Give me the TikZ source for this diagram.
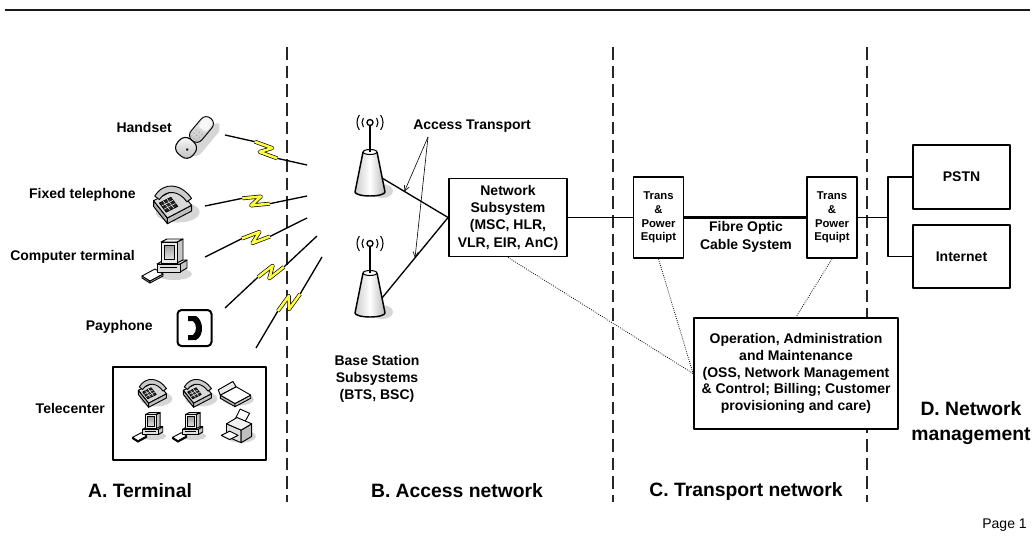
\documentclass[tikz,border=0pt]{standalone}
\usepackage{fontspec}
\setmainfont{Liberation Sans}
\usetikzlibrary{calc,arrows.meta}

\definecolor{zapyellow}{rgb}{1,1,0.25}
\definecolor{shadowgray}{gray}{0.84}

\newcommand\lblfont{\fontsize{10.5}{13}\selectfont\bfseries}
\newcommand\smallbold{\fontsize{8.5}{10.2}\selectfont\bfseries}
\newcommand\bigbold{\fontsize{14.5}{19}\selectfont\bfseries}

% radio link: straight wire with a lightning zig-zag in its middle
\newcommand\zapline[2]{%
  \path let \p1=($(#2)-(#1)$), \n1={veclen(\x1,\y1)/2}, \n2={atan2(\y1,\x1)} in
    ($(#1)+(\n2:{\n1-10pt})+({\n2+90}:3pt)$) coordinate (z1)
    ($(#1)+(\n2:{\n1+4pt})+({\n2+90}:3pt)$) coordinate (z2)
    ($(#1)+(\n2:{\n1-4pt})+({\n2-90}:3pt)$) coordinate (z3)
    ($(#1)+(\n2:{\n1+10pt})+({\n2-90}:3pt)$) coordinate (z4);
  \draw[wire] (#1) -- (z1) (z4) -- (#2);
  \draw[zap] (z1) -- (z2) -- (z3) -- (z4);
}

\tikzset{
  outline/.style={draw=black, line width=0.7pt},
  % mobile handset
  handset/.pic={
    \begin{scope}[rotate=50]
      \fill[shadowgray, rounded corners=6pt] (-18,4) rectangle (24,15);
      \shade[top color=gray!10, bottom color=gray!50, draw=black, line width=0.7pt, rounded corners=5pt] (-6,-7) rectangle (23,7);
      \fill[gray!6, rounded corners=2pt] (9,-5) rectangle (21,5);
      \foreach \u in {-3,1,5} \foreach \v in {-3.5,0,3.5} \fill[gray!60] (\u,\v) circle[radius=0.9];
      \shade[top color=white, bottom color=gray!55, draw=black, line width=0.8pt, rounded corners=6pt] (-25,-10) rectangle (-6,10);
      \fill[black] (-16,2) circle[radius=1.4];
    \end{scope}
  },
  % desk telephone
  deskphone/.pic={
    \fill[shadowgray] (5,8) ellipse [x radius=19, y radius=9];
    \filldraw[fill=gray!65, outline] (-16,-2) -- (-4,13) -- (-4,18) -- (-16,3) -- cycle;
    \filldraw[fill=gray!50, outline] (-4,13) -- (17,2) -- (17,7) -- (-4,18) -- cycle;
    \filldraw[fill=gray!30, outline] (-16,-2) -- (5,-13) -- (17,2) -- (-4,13) -- cycle;
    \filldraw[fill=black!85, line width=0.5pt] (-11,0) -- (-1,-5) -- (5,3) -- (-5,8) -- cycle;
    \foreach \t in {0.33,0.67} {
      \draw[white, line width=0.35pt] ($(-11,0)!\t!(-1,-5)$) -- ($(-5,8)!\t!(5,3)$);
      \draw[white, line width=0.35pt] ($(-11,0)!\t!(-5,8)$) -- ($(-1,-5)!\t!(5,3)$);
    }
    \filldraw[fill=gray!40, outline] (-15,-6) .. controls (-7,-19) and (8,-17) .. (17,-4)
      -- (13,-1) .. controls (6,-11) and (-5,-12) .. (-11,-3) -- cycle;
  },
  % desktop computer with keyboard
  computer/.pic={
    \fill[shadowgray] (6,9) ellipse [x radius=18, y radius=6];
    \filldraw[fill=gray!45, outline] (-26,11) -- (-18,16) -- (-18,18) -- (-26,13) -- cycle;
    \filldraw[fill=gray!30, outline] (-18,16) -- (-5,9) -- (-5,11) -- (-18,18) -- cycle;
    \filldraw[fill=white, outline] (-26,11) -- (-13,4) -- (-5,9) -- (-18,16) -- cycle;
    \filldraw[fill=gray!45, outline] (12,-1) -- (19,-5) -- (19,3) -- (12,7) -- cycle;
    \filldraw[fill=gray!10, outline] (-11,-1) -- (-4,-5) -- (19,-5) -- (12,-1) -- cycle;
    \filldraw[fill=gray!25, outline] (-11,-1) rectangle (12,7);
    \draw[line width=0.5pt] (-8,2.5) -- (9,2.5);
    \filldraw[fill=gray!45, outline] (9,-23) -- (15,-26) -- (15,-5) -- (9,-2) -- cycle;
    \filldraw[fill=gray!10, outline] (-7,-23) -- (-1,-26) -- (15,-26) -- (9,-23) -- cycle;
    \filldraw[fill=gray!15, outline] (-7,-23) rectangle (9,-2);
    \shade[top color=gray!75, bottom color=gray!25, draw=black, line width=0.5pt] (-4,-20) rectangle (6,-6);
  },
  % flatbed scanner with open lid
  scanner/.pic={
    \fill[shadowgray] (3,6) ellipse [x radius=15, y radius=6];
    \filldraw[fill=gray!55, outline] (-14,2) -- (0,10) -- (0,13) -- (-14,5) -- cycle;
    \filldraw[fill=gray!40, outline] (0,10) -- (15,2) -- (15,5) -- (0,13) -- cycle;
    \filldraw[fill=white, outline] (-14,2) -- (1,-6) -- (15,2) -- (0,10) -- cycle;
    \filldraw[fill=gray!15, outline] (-14,2) -- (1,-6) -- (-2,-11) -- (-16,-3) -- cycle;
  },
  % printer
  printer/.pic={
    \fill[shadowgray] (4,8) ellipse [x radius=14, y radius=6];
    \filldraw[fill=white, outline] (-2,-8) -- (3,-18) -- (12,-14) -- (7,-5) -- cycle;
    \filldraw[fill=gray!25, outline] (-10,-4) -- (4,2) -- (4,14) -- (-10,8) -- cycle;
    \filldraw[fill=gray!50, outline] (4,2) -- (14,-4) -- (14,8) -- (4,14) -- cycle;
    \filldraw[fill=gray!10, outline] (-10,-4) -- (0,-10) -- (14,-4) -- (4,2) -- cycle;
    \filldraw[fill=white, outline] (-15,7) -- (-7,3) -- (1,7) -- (-7,11) -- cycle;
  },
  % base station tower with radiating antenna
  tower/.pic={
    \fill[shadowgray] (12,39) ellipse [x radius=11, y radius=7];
    \shade[left color=gray!40, right color=gray!55, middle color=white]
      (-7,0) -- (-15,40) arc[start angle=180, end angle=0, x radius=15, y radius=4] -- (7,0) -- cycle;
    \draw[line width=1.1pt] (-7,0) -- (-15,40) arc[start angle=180, end angle=0, x radius=15, y radius=4] -- (7,0);
    \filldraw[fill=white, line width=0.8pt] (0,0) ellipse [x radius=7, y radius=2.5];
    \draw[line width=1.1pt] (0,0) -- (0,-26);
    \filldraw[fill=white, line width=1pt] (0,-29.5) circle[radius=3];
    \foreach \r in {8,13} {
      \draw[line width=0.8pt] (0,-29.5) ++(145:\r) arc[start angle=145, end angle=215, radius=\r];
      \draw[line width=0.8pt] (0,-29.5) ++(-35:\r) arc[start angle=-35, end angle=35, radius=\r];
    }
  }
}

\begin{document}
\begin{tikzpicture}[x=0.75pt, y=-0.75pt, line join=round,
  wire/.style={line width=1pt},
  zap/.style={draw=black, line width=0.5pt, double=zapyellow, double distance=1.9pt},
  divider/.style={line width=0.9pt, black!85, dash pattern=on 9.5pt off 4.5pt},
  box/.style={draw, line width=1.4pt, fill=white, align=center, inner sep=0pt, font=\lblfont},
  tbox/.style={box, font=\smallbold, minimum width=50*0.75pt, minimum height=81*0.75pt},
  lbl/.style={align=center, inner sep=0pt, font=\lblfont},
  section/.style={align=center, inner sep=0pt, font=\bigbold},
  oamlink/.style={line width=0.6pt, densely dotted},
  pointer/.style={line width=0.45pt, -{Straight Barb[length=4pt, width=4pt]}}
]
\useasboundingbox (0,0) rectangle (1034,546);

% header rule
\draw[line width=1.6pt, black!90] (5,10) -- (1030,10);

% boundaries between the four domains
\foreach \dx in {287,613,867} \draw[divider] (\dx,47) -- (\dx,502);

% ---- A. Terminal ----
\node[lbl, anchor=east] (lhand) at (172,127) {Handset};
\node[lbl, anchor=east] (lfixed) at (136,195) {Fixed telephone};
\node[lbl, anchor=east] (lcomp) at (135,257) {Computer terminal};
\node[lbl, anchor=east] (lpay) at (153,327) {Payphone};
\node[lbl, anchor=east] (ltc) at (105,408) {Telecenter};

\pic (mobile) at (196,136) {handset};
\pic[scale=1.15] (fixed) at (172,203) {deskphone};
\pic (pc) at (168,265) {computer};

\node[draw, line width=1.5pt, rounded corners=3pt, minimum width=34*0.75pt, minimum height=36*0.75pt, inner sep=0pt] (pay) at (194.5,328) {};
\fill[black, shift={(pay.center)}] (-6.5,-12) -- (1.5,-12) .. controls (9,-8) and (10,8) .. (1.5,12)
  -- (-6.5,12) -- (-6.5,7) -- (-1.5,7) .. controls (2.5,4) and (2.5,-4) .. (-1.5,-7) -- (-6.5,-7) -- cycle;

\node[draw, line width=2.2pt, minimum width=153*0.75pt, minimum height=93*0.75pt, inner sep=0pt] (tc) at (189.5,413.5) {};
\pic[scale=0.85] (tcphoneA) at (152,392) {deskphone};
\pic[scale=0.85] (tcphoneB) at (197,392) {deskphone};
\pic[scale=1.05] (tcscan) at (235,393) {scanner};
\pic[scale=0.67] (tcpcA) at (150,430) {computer};
\pic[scale=0.67] (tcpcB) at (190,430) {computer};
\pic[scale=1.05] (tcprint) at (237,428) {printer};

% radio links towards the base stations
\coordinate (r1a) at (225,135); \coordinate (r1b) at (307,165);
\coordinate (r2a) at (205,206); \coordinate (r2b) at (307,196);
\coordinate (r3a) at (205,257); \coordinate (r3b) at (307,218);
\coordinate (r4a) at (225,308); \coordinate (r4b) at (317,236);
\coordinate (r5a) at (256,348); \coordinate (r5b) at (322,257);
\zapline{r1a}{r1b}
\zapline{r2a}{r2b}
\zapline{r3a}{r3b}
\zapline{r4a}{r4b}
\zapline{r5a}{r5b}

% ---- B. Access network ----
\pic (btsA) at (370,152) {tower};
\pic (btsB) at (370,273) {tower};
\coordinate (t1feed) at (382,178);
\coordinate (t2feed) at (382,298);

\node[box, minimum width=118*0.75pt, minimum height=78*0.75pt] (ns) at (508,217.5)
  {Network\\Subsystem\\(MSC, HLR,\\VLR, EIR, AnC)};
\draw[wire] (t1feed) -- (ns.west);
\draw[wire] (t2feed) -- (ns.west);

\node[lbl] (acc) at (472,126) {Access Transport};
\coordinate (apex) at (428,137);
\draw[pointer] (apex) -- ($(t1feed)!0.34!(ns.west)$);
\draw[pointer] (apex) -- ($(t2feed)!0.5!(ns.west)$);

\node[lbl] (bss) at (377,379) {Base Station\\Subsystems\\(BTS, BSC)};

% ---- C. Transport network ----
\node[tbox] (tr1) at (658.5,217.5) {Trans\\\&\\Power\\Equipt};
\node[tbox] (tr2) at (832,217.5) {Trans\\\&\\Power\\Equipt};
\draw[wire] (ns.east) -- (tr1.west);
\draw[line width=2.6pt] (tr1.east) -- (tr2.west);
\node[lbl] (fibre) at (746,237) {Fibre Optic\\Cable System};

% ---- D. Network management and external networks ----
\node[box, minimum width=97*0.75pt, minimum height=64*0.75pt] (pstn) at (961.5,177) {PSTN};
\node[box, minimum width=97*0.75pt, minimum height=63*0.75pt] (inet) at (961.5,256.5) {Internet};
\coordinate (jx) at (888,217.5);
\draw[wire] (tr2.east) -- (jx);
\draw[wire] (pstn.west) -| (jx) |- (inet.west);

\node[box, minimum width=204*0.75pt, minimum height=111*0.75pt, font=\fontsize{10.5}{12.5}\selectfont\bfseries] (oam) at (796,373.5)
  {Operation, Administration\\and Maintenance\\(OSS, Network Management\\\& Control; Billing; Customer\\provisioning and care)};
\draw[oamlink] (ns.south) -- (oam.west);
\draw[oamlink] (tr1.south) -- (oam.west);
\draw[oamlink] (tr2.south) -- (oam.north);

% domain titles
\node[section] (secA) at (140,491) {A. Terminal};
\node[section] (secB) at (457,491) {B. Access network};
\node[section] (secC) at (746,491) {C. Transport network};
\node[section] (secD) at (971,423) {D. Network\\management};

\node[font=\fontsize{10.5}{12}\selectfont, anchor=east, inner sep=0pt] (page) at (1027,525) {Page 1};
\end{tikzpicture}
\end{document}
